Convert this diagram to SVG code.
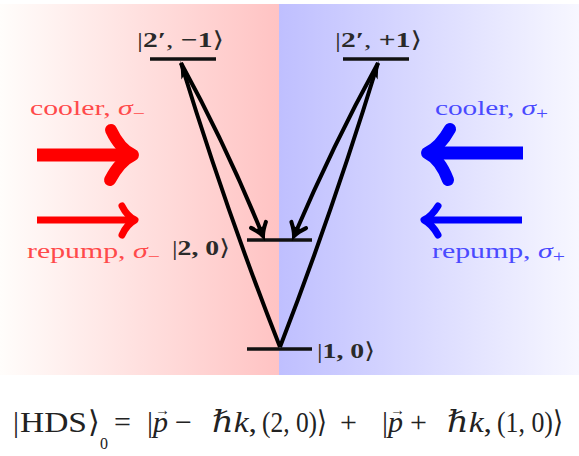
<svg xmlns="http://www.w3.org/2000/svg" width="579" height="456" viewBox="0 0 579 456">
  <style>
    .lvl { stroke: #111; stroke-width: 3.5; }
    .conn { fill: none; stroke: #000; stroke-width: 4; }
    .lbl { font-family: "Liberation Serif", "DejaVu Serif", serif; font-size: 22px; fill: #2a2a2a; }
    .b { font-weight: bold; }
    .laser { font-family: "Liberation Serif", "DejaVu Serif", serif; font-size: 22px; }
    .red { fill: #ff4a4a; }
    .blue { fill: #4a4aff; }
    .eq { font-family: "Liberation Serif", "DejaVu Serif", serif; font-size: 30px; fill: #222; }
    .it { font-style: italic; }
    .rarrow { fill: none; stroke: #ff0000; stroke-linejoin: round; }
    .barrow { fill: none; stroke: #0000ff; stroke-linejoin: round; }
  </style>
  <defs>
    <linearGradient id="gRed" x1="0" y1="0" x2="1" y2="0">
      <stop offset="0" stop-color="#fffdfb"/>
      <stop offset="1" stop-color="#ffc3c3"/>
    </linearGradient>
    <linearGradient id="gBlue" x1="0" y1="0" x2="1" y2="0">
      <stop offset="0" stop-color="#bfbfff"/>
      <stop offset="1" stop-color="#f7f7ff"/>
    </linearGradient>
    <marker id="barb" markerUnits="userSpaceOnUse" markerWidth="26" markerHeight="26" viewBox="-15 -13 19 26" refX="0" refY="0" orient="auto">
      <path d="M-12,-8 Q-5,-2 0,0 Q-5,2 -12,8" fill="none" stroke="#000" stroke-width="4" stroke-linecap="round"/>
      <path d="M-9,-4 L1.5,0 L-9,4 Z" fill="#000"/>
    </marker>
    <marker id="tip" markerUnits="userSpaceOnUse" markerWidth="26" markerHeight="18" viewBox="-18 -9 22 18" refX="0" refY="0" orient="auto">
      <path d="M-16,-4.5 L2,0 L-16,4.5 L-12,0 Z" fill="#000"/>
    </marker>
  </defs>

  <g id="background">
    <rect x="0" y="4" width="279" height="371" fill="url(#gRed)"/>
    <rect x="279" y="4" width="300" height="371" fill="url(#gBlue)"/>
  </g>

  <g id="level-2p-m1">
    <line class="lvl" x1="150" y1="59" x2="216" y2="59"/>
    <text class="lbl" x="137" y="47" textLength="87" lengthAdjust="spacingAndGlyphs">|<tspan class="b">2′</tspan>, <tspan class="b">−1</tspan>⟩</text>
  </g>
  <g id="level-2p-p1">
    <line class="lvl" x1="343" y1="59" x2="409" y2="59"/>
    <text class="lbl" x="335" y="47" textLength="87" lengthAdjust="spacingAndGlyphs">|<tspan class="b">2′</tspan>, <tspan class="b">+1</tspan>⟩</text>
  </g>
  <g id="level-2-0">
    <line class="lvl" x1="247" y1="240" x2="312" y2="240"/>
    <text class="lbl" x="172" y="255" textLength="58" lengthAdjust="spacingAndGlyphs">|<tspan class="b">2, 0</tspan>⟩</text>
  </g>
  <g id="level-1-0">
    <line class="lvl" x1="247" y1="349" x2="312" y2="349"/>
    <text class="lbl" x="317" y="358" textLength="58" lengthAdjust="spacingAndGlyphs">|<tspan class="b">1, 0</tspan>⟩</text>
  </g>

  <g id="connectors">
    <path class="conn" d="M280,347 Q226,210 181,63" marker-end="url(#tip)"/>
    <path class="conn" d="M181,63 Q226,145 263,236" marker-end="url(#barb)"/>
    <path class="conn" d="M280,347 Q333,210 378,63" marker-end="url(#tip)"/>
    <path class="conn" d="M378,63 Q333,145 294,236" marker-end="url(#barb)"/>
  </g>

  <g id="cooler-minus">
    <text class="laser red" x="30" y="115" textLength="115" lengthAdjust="spacingAndGlyphs">cooler, <tspan class="it">σ</tspan><tspan font-size="16" dy="4">−</tspan></text>
    <line x1="37" y1="155" x2="128" y2="155" stroke="#ff0000" stroke-width="13"/>
    <path class="rarrow" d="M111,130 Q120,149 133,155 Q120,161 110,180" stroke-width="12" stroke-linecap="round"/>
  </g>
  <g id="repump-minus">
    <line x1="37" y1="220" x2="131" y2="220" stroke="#ff0000" stroke-width="7"/>
    <path class="rarrow" d="M122,206 Q127,216 135,220 Q127,224 122,235" stroke-width="7" stroke-linecap="round"/>
    <text class="laser red" x="27" y="258" textLength="133" lengthAdjust="spacingAndGlyphs">repump, <tspan class="it">σ</tspan><tspan font-size="16" dy="4">−</tspan></text>
  </g>
  <g id="cooler-plus">
    <text class="laser blue" x="435" y="115" textLength="113" lengthAdjust="spacingAndGlyphs">cooler, <tspan class="it">σ</tspan><tspan font-size="16" dy="4">+</tspan></text>
    <line x1="430" y1="153" x2="523" y2="153" stroke="#0000ff" stroke-width="13"/>
    <path class="barrow" d="M450,129 Q440,147 427,153 Q440,159 448,180" stroke-width="12" stroke-linecap="round"/>
  </g>
  <g id="repump-plus">
    <line x1="428" y1="220" x2="522" y2="220" stroke="#0000ff" stroke-width="7"/>
    <path class="barrow" d="M438,206 Q432,216 424,220 Q432,224 438,235" stroke-width="7" stroke-linecap="round"/>
    <text class="laser blue" x="432" y="258" textLength="133" lengthAdjust="spacingAndGlyphs">repump, <tspan class="it">σ</tspan><tspan font-size="16" dy="4">+</tspan></text>
  </g>

  <g id="equation">
    <text class="eq" x="13" y="432">|<tspan x="20" textLength="67" lengthAdjust="spacingAndGlyphs">HDS</tspan><tspan x="88">⟩</tspan><tspan x="100" y="449" font-size="16">0</tspan><tspan x="114" y="432">=</tspan></text>
    <text class="eq" x="147" y="432">|<tspan x="153" class="it">p</tspan><tspan x="155" y="415" font-size="15">→</tspan><tspan x="175" y="432">−</tspan></text>
    <text class="eq" x="212" y="432" textLength="45" lengthAdjust="spacingAndGlyphs"><tspan class="it">ℏk</tspan>,</text>
    <text class="eq" x="262" y="432" textLength="65" lengthAdjust="spacingAndGlyphs">(2, 0)⟩</text>
    <text class="eq" x="340" y="432">+</text>
    <text class="eq" x="382" y="432">|<tspan x="388" class="it">p</tspan><tspan x="390" y="415" font-size="15">→</tspan><tspan x="410" y="432">+</tspan></text>
    <text class="eq" x="447" y="432" textLength="45" lengthAdjust="spacingAndGlyphs"><tspan class="it">ℏk</tspan>,</text>
    <text class="eq" x="497" y="432" textLength="66" lengthAdjust="spacingAndGlyphs">(1, 0)⟩</text>
  </g>
</svg>
